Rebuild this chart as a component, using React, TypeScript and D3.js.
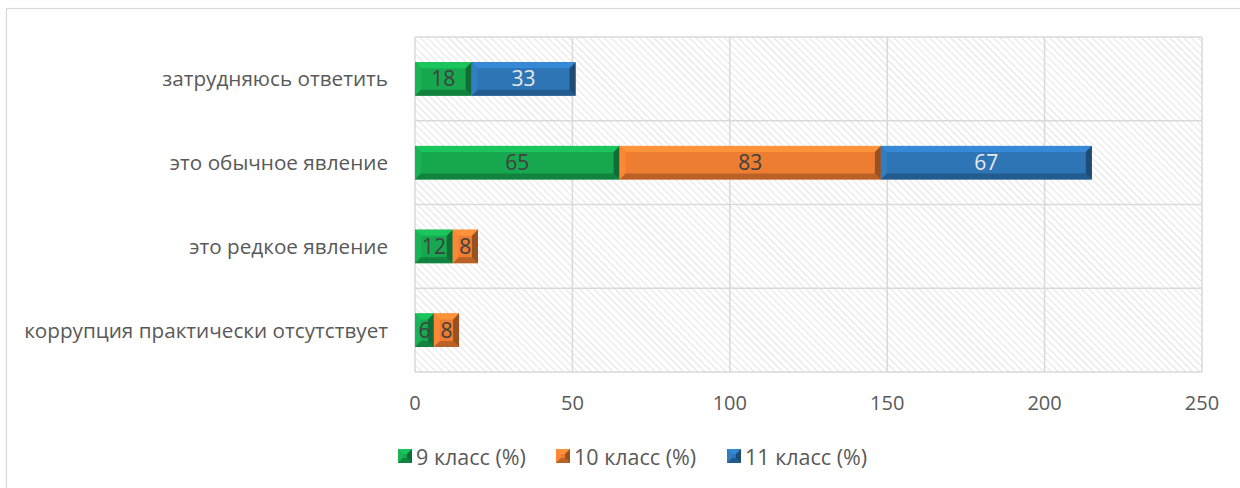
import React from 'react';
import * as d3 from 'd3';

const categories = [
  'затрудняюсь ответить',
  'это обычное явление',
  'это редкое явление',
  'коррупция практически отсутствует',
];
const grade9 = [18, 65, 12, 6];
const grade10 = [0, 83, 8, 8];
const grade11 = [33, 67, 0, 0];
const seriesNames = ['9 класс (%)', '10 класс (%)', '11 класс (%)'];
const xTicks = [0, 50, 100, 150, 200, 250];

const colors = ['#17a84f', '#ed7d31', '#2e75b6'];
const labelColors = ['#404040', '#404040', '#e8e8e8'];
const FONT = "'Open Sans', 'Noto Sans', sans-serif";

const W = 1240;
const H = 488;
const plot = { left: 415, right: 1202, top: 37, bottom: 372 };

function Bevel({ x0, x1, y0, y1, color, b = 6 }: any) {
  const w = x1 - x0;
  const h = y1 - y0;
  const bb = Math.min(b, w / 2, h / 2);
  const base = d3.color(color)!;
  const light = base.brighter(0.45).formatHex();
  const lighter = base.brighter(0.2).formatHex();
  const dark = base.darker(0.7).formatHex();
  const darker = base.darker(1.2).formatHex();
  const pts = (a: number[][]) => a.map(p => p.join(',')).join(' ');
  return (
    <g>
      <rect x={x0} y={y0} width={w} height={h} fill={color} />
      <polygon points={pts([[x0, y0], [x1, y0], [x1 - bb, y0 + bb], [x0 + bb, y0 + bb]])} fill={light} />
      <polygon points={pts([[x0, y0], [x0 + bb, y0 + bb], [x0 + bb, y1 - bb], [x0, y1]])} fill={lighter} />
      <polygon points={pts([[x0, y1], [x1, y1], [x1 - bb, y1 - bb], [x0 + bb, y1 - bb]])} fill={dark} />
      <polygon points={pts([[x1, y0], [x1, y1], [x1 - bb, y1 - bb], [x1 - bb, y0 + bb]])} fill={darker} />
    </g>
  );
}

export default function App() {
  const x = d3.scaleLinear().domain([0, 250]).range([plot.left, plot.right]);
  const y = d3.scaleBand().domain(categories).range([plot.top, plot.bottom]).paddingInner(0.6).paddingOuter(0.3);
  const rows = d3.scaleBand().domain(categories).range([plot.top, plot.bottom]);

  const data = categories.map((c, i) => ({ cat: c, vals: [grade9[i], grade10[i], grade11[i]] }));
  const legendX = [398, 556, 727];

  return (
    <svg width={W} height={H} style={{ position: 'absolute', left: 0, top: 0, background: '#fff' }} fontFamily={FONT}>
      <defs>
        <pattern id="hatch" patternUnits="userSpaceOnUse" width="5" height="5" patternTransform="rotate(-45)">
          <rect width="5" height="5" fill="#fff" />
          <line x1="0" y1="0" x2="0" y2="5" stroke="#dcdcdc" strokeWidth="1.5" />
        </pattern>
      </defs>
      <rect x={6.5} y={8.5} width={W} height={H} fill="#fff" stroke="#d9d9d9" strokeWidth={1.2} />

      <rect x={plot.left} y={plot.top} width={plot.right - plot.left} height={plot.bottom - plot.top} fill="url(#hatch)" />
      {xTicks.map(t => (
        <line key={'v' + t} x1={x(t)} x2={x(t)} y1={plot.top} y2={plot.bottom} stroke="#d9d9d9" strokeWidth={1.5} />
      ))}
      {categories.map(c => (
        <line key={'h' + c} x1={plot.left} x2={plot.right} y1={rows(c)!} y2={rows(c)!} stroke="#d9d9d9" strokeWidth={1.5} />
      ))}
      <line x1={plot.left} x2={plot.right} y1={plot.bottom} y2={plot.bottom} stroke="#d9d9d9" strokeWidth={1.5} />

      {data.map(d => {
        let acc = 0;
        const yy = y(d.cat)!;
        return (
          <g key={d.cat}>
            {d.vals.map((v, si) => {
              if (!v) return null;
              const x0 = x(acc);
              acc += v;
              const x1 = x(acc);
              return (
                <g key={si}>
                  <Bevel x0={x0} x1={x1} y0={yy} y1={yy + y.bandwidth()} color={colors[si]} />
                  <text x={(x0 + x1) / 2} y={yy + y.bandwidth() / 2} dy="0.36em" textAnchor="middle"
                    fontSize={21} fill={labelColors[si]}>{v}</text>
                </g>
              );
            })}
          </g>
        );
      })}

      {categories.map(c => (
        <text key={'l' + c} x={388} y={rows(c)! + rows.bandwidth() / 2} dy="0.36em" textAnchor="end" fontSize={20.7} fill="#595959">{c}</text>
      ))}
      {xTicks.map(t => (
        <text key={'t' + t} x={x(t)} y={403} dy="0.36em" textAnchor="middle" fontSize={20} fill="#595959">{t}</text>
      ))}

      {seriesNames.map((s, i) => (
        <g key={s}>
          <Bevel x0={legendX[i]} x1={legendX[i] + 14} y0={449} y1={463} color={colors[i]} b={5} />
          <text x={legendX[i] + 18} y={457} dy="0.36em" fontSize={21.5} fill="#595959">{s}</text>
        </g>
      ))}
    </svg>
  );
}
